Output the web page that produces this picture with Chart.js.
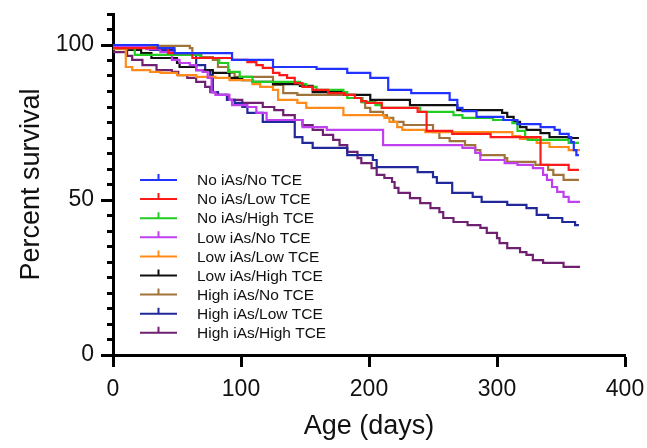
<!DOCTYPE html>
<html>
<head>
<meta charset="utf-8">
<script src="https://cdn.jsdelivr.net/npm/chart.js@4.4.1/dist/chart.umd.min.js"></script>
<style>
  html, body { margin: 0; padding: 0; background: #fff; }
  canvas { display: block; }
</style>
</head>
<body>
<canvas id="chart" width="647" height="448"></canvas>
<script>
// Kaplan-Meier curves: day of each step and survival (%) from that day on
const groupLabels = [
  "No iAs/No TCE", "No iAs/Low TCE", "No iAs/High TCE",
  "Low iAs/No TCE", "Low iAs/Low TCE", "Low iAs/High TCE",
  "High iAs/No TCE", "High iAs/Low TCE", "High iAs/High TCE",
];

const noNoDays = [0, 35, 48, 93, 125, 159, 183, 201, 215, 233, 263, 269, 273, 284, 305, 316, 334, 345, 349, 356, 358, 360, 362, 364];
const noNoSurv = [100, 99, 97.4, 95.2, 92.9, 92.3, 91, 89.4, 85.5, 84.5, 82.3, 79.7, 78.7, 76.8, 75.8, 74.5, 73.5, 72.6, 71.3, 70.3, 68.7, 66.1, 64.5, 64.5];

const noLowDays = [0, 43, 62, 93, 105, 112, 117, 125, 130, 136, 142, 148, 156, 168, 181, 189, 194, 198, 210, 238, 245, 265, 295, 334, 356, 364];
const noLowSurv = [99, 97.4, 95.8, 95.2, 94.5, 93.5, 92.6, 91, 90.3, 89.4, 87.7, 86.5, 85.5, 84.5, 83.9, 82.9, 81.9, 81.3, 79.7, 78.4, 72.3, 71.3, 70.3, 61.3, 59.7, 59.7];

const noHighDays = [0, 17, 68, 83, 90, 99, 109, 146, 151, 159, 180, 183, 195, 205, 210, 240, 266, 273, 297, 312, 316, 322, 324, 356, 364];
const noHighSurv = [99, 96.8, 95.8, 94.2, 91.3, 89.7, 88.1, 87.4, 86.5, 85.5, 84.8, 82.9, 81.6, 80.6, 79.7, 78.4, 77.4, 76.5, 75.8, 74.8, 72.3, 70.3, 69.4, 68.4, 68.4];

const lowNoDays = [0, 26, 37, 46, 52, 60, 65, 70, 74, 77, 80, 91, 93, 105, 112, 120, 148, 167, 211, 273, 283, 287, 306, 316, 328, 336, 339, 343, 347, 352, 356, 364];
const lowNoSurv = [99.7, 98.7, 97.7, 95.2, 94.2, 93.5, 91.9, 91.3, 89.4, 84.8, 83.9, 82.3, 80.6, 80, 78.1, 75.8, 73.5, 72.6, 67.7, 66.8, 65.2, 62.9, 61.9, 61.3, 60.3, 58.1, 56.5, 54.2, 52.6, 51, 49.4, 49];

const lowLowDays = [0, 10, 15, 29, 37, 50, 65, 80, 91, 109, 115, 125, 129, 144, 151, 180, 212, 216, 222, 226, 244, 312, 318, 331, 341, 356, 364];
const lowLowSurv = [98.7, 92.9, 91.9, 91.3, 91, 90.3, 89.7, 89.4, 88.7, 87.4, 86.5, 85.5, 82.3, 81.3, 79.7, 77.4, 76.5, 75.2, 73.5, 72.6, 71.9, 70.6, 69.7, 68.4, 67.1, 66.1, 65.8];

const lowHighDays = [0, 12, 22, 30, 50, 52, 65, 78, 91, 101, 109, 125, 146, 156, 181, 201, 232, 269, 304, 308, 313, 318, 323, 334, 341, 356, 364];
const lowHighSurv = [99.4, 98.4, 97.4, 95.8, 94.2, 92.9, 91.9, 91, 89.4, 88.7, 88.1, 87.4, 86.8, 84.8, 83.9, 82.3, 80.6, 79, 78.1, 76.8, 75.2, 73.5, 72.6, 71.6, 70.3, 70, 70];

const highNoDays = [0, 60, 62, 69, 78, 82, 90, 91, 95, 125, 133, 144, 189, 194, 197, 201, 211, 214, 219, 227, 250, 255, 263, 275, 283, 287, 306, 308, 330, 340, 344, 352, 364];
const highNoSurv = [99.7, 99, 97.4, 96.1, 95.2, 92.9, 91.9, 91, 89.7, 87.1, 84.5, 83.9, 82.9, 81.6, 79.7, 78.4, 77.4, 76.5, 75.2, 74.2, 71.9, 70, 69, 67.7, 66.1, 64.5, 63.5, 62.3, 61.3, 59.7, 58.1, 56.5, 56.5];

const highLowDays = [0, 29, 48, 65, 72, 76, 78, 82, 89, 95, 101, 105, 117, 142, 148, 156, 183, 203, 206, 238, 250, 253, 265, 281, 288, 308, 323, 331, 340, 351, 361, 364];
const highLowSurv = [99.7, 98.4, 96.8, 93.5, 91.9, 90.3, 84.8, 83.9, 82.3, 81.3, 80, 78.1, 75.2, 70.3, 68.4, 66.8, 64.5, 62.9, 60.6, 59, 57.4, 55.5, 52.3, 51, 49.4, 48.4, 47.4, 45.2, 44.2, 42.9, 41.9, 41.9];

const highHighDays = [0, 11, 15, 23, 34, 46, 51, 58, 65, 72, 76, 82, 90, 101, 117, 126, 133, 142, 148, 156, 164, 172, 177, 183, 191, 194, 202, 206, 212, 218, 220, 223, 232, 240, 248, 255, 258, 266, 277, 287, 292, 300, 302, 308, 318, 323, 328, 336, 352, 364];
const highHighSurv = [97.7, 96.5, 95.2, 93.5, 91.9, 91.3, 90.3, 89.4, 88.1, 86.5, 84.8, 83.9, 82.3, 81.3, 80, 79, 77.4, 75.8, 74.2, 72.6, 71, 69.4, 67.7, 65.5, 63.5, 61.9, 60.3, 58.1, 57.1, 55.8, 53.9, 52.3, 50.6, 49, 47.4, 46.1, 44.2, 42.9, 41.9, 41, 39.4, 37.7, 36.1, 34.5, 33.2, 32.3, 30.6, 29.7, 28.4, 28.1];

const xTicks = [0, 100, 200, 300, 400];
const yMajorTicks = [0, 50, 100];

const groupDays = [noNoDays, noLowDays, noHighDays, lowNoDays, lowLowDays, lowHighDays, highNoDays, highLowDays, highHighDays];
const groupSurv = [noNoSurv, noLowSurv, noHighSurv, lowNoSurv, lowLowSurv, lowHighSurv, highNoSurv, highLowSurv, highHighSurv];

const lineColors = ["#2233ff", "#ff1a1a", "#22cc22", "#c040f0", "#ff8c1a", "#111111", "#a0733a", "#20289a", "#702070"];

const FONT = "'Liberation Sans', Arial, Helvetica, sans-serif";

// legend drawn inside the plot, line with a small censor tick like the original
const insideLegend = {
  id: "insideLegend",
  afterDraw(chart) {
    const { ctx, chartArea } = chart;
    const x0 = chartArea.left + 27;
    const y0 = chartArea.top + 166;
    const rowH = 19.1;
    ctx.save();
    ctx.font = "15.5px " + FONT;
    ctx.textBaseline = "middle";
    ctx.textAlign = "left";
    chart.data.datasets.forEach((ds, i) => {
      const y = y0 + i * rowH;
      ctx.strokeStyle = ds.borderColor;
      ctx.lineWidth = 2;
      ctx.beginPath();
      ctx.moveTo(x0, y);
      ctx.lineTo(x0 + 37, y);
      ctx.moveTo(x0 + 18.5, y);
      ctx.lineTo(x0 + 18.5, y - 6);
      ctx.stroke();
      ctx.fillStyle = "#111";
      ctx.fillText(ds.label, x0 + 57, y + 1);
    });
    ctx.restore();
  },
};

const datasets = groupLabels.map((label, i) => ({
  label,
  data: groupDays[i].map((d, j) => ({ x: d, y: groupSurv[i][j] })),
  borderColor: lineColors[i],
  borderWidth: 2.2,
  stepped: "before",
  pointRadius: 0,
  fill: false,
}));

new Chart(document.getElementById("chart"), {
  type: "line",
  data: { datasets },
  options: {
    responsive: false,
    animation: false,
    devicePixelRatio: 1,
    layout: { padding: { top: 14, right: 22, left: 7, bottom: 0 } },
    plugins: {
      legend: { display: false },
      tooltip: { enabled: false },
    },
    scales: {
      x: {
        type: "linear",
        min: 0,
        max: 400,
        afterBuildTicks: (s) => { s.ticks = xTicks.map((v) => ({ value: v })); },
        afterFit: (s) => { s.height = 93; s.paddingLeft = 0; s.paddingRight = 0; },
        grid: { drawOnChartArea: false, tickLength: 12, tickWidth: 3, tickColor: "#000" },
        border: { display: true, width: 3, color: "#000" },
        ticks: { color: "#111", padding: 9, maxRotation: 0, font: { family: FONT, size: 23 } },
        title: {
          display: true,
          text: "Age (days)",
          color: "#111",
          font: { family: FONT, size: 27 },
          padding: { top: 0, bottom: 5 },
        },
      },
      y: {
        type: "linear",
        position: "left",
        weight: 1,
        min: 0,
        max: 110,
        afterBuildTicks: (s) => { s.ticks = yMajorTicks.map((v) => ({ value: v })); },
        afterFit: (s) => { s.width = 106; s.paddingTop = 0; s.paddingBottom = 0; },
        grid: { drawOnChartArea: false, tickLength: 12, tickWidth: 3, tickColor: "#000" },
        border: { display: true, width: 3, color: "#000" },
        ticks: { color: "#111", padding: 7, font: { family: FONT, size: 23 } },
        title: {
          display: true,
          text: "Percent survival",
          color: "#111",
          font: { family: FONT, size: 27 },
          padding: { top: 8, bottom: 0 },
        },
      },
      yMinor: {
        type: "linear",
        position: "left",
        weight: 0,
        min: 0,
        max: 110,
        ticks: { stepSize: 5, display: false },
        afterFit: (s) => { s.width = 0; s.paddingTop = 0; s.paddingBottom = 0; },
        grid: { drawOnChartArea: false, tickLength: 6, tickWidth: 3, tickColor: "#000" },
        border: { display: false },
      },
    },
  },
  plugins: [insideLegend],
});
</script>
</body>
</html>
